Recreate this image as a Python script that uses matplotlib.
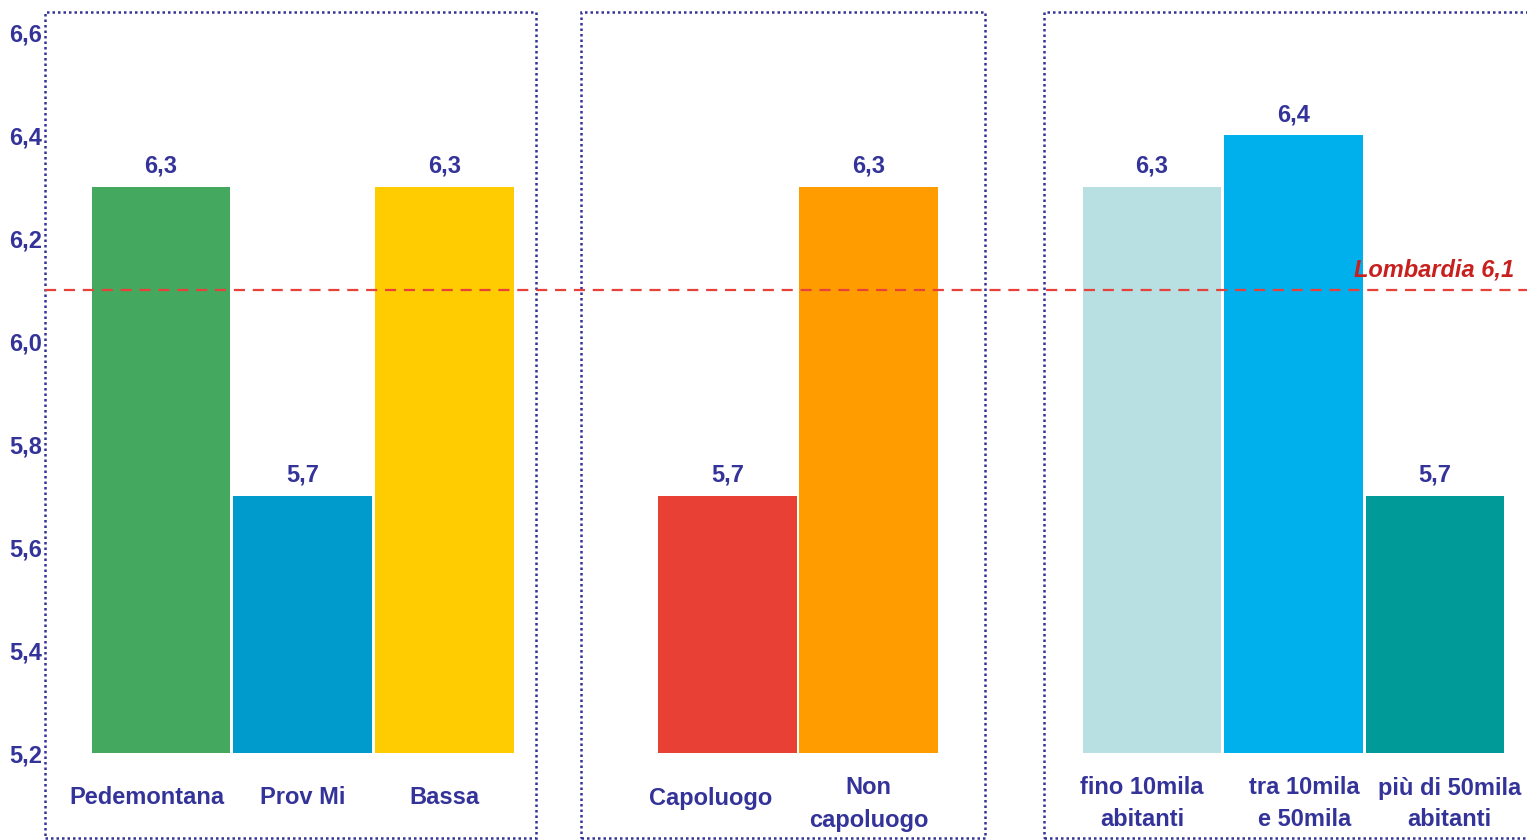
import matplotlib.pyplot as plt
from matplotlib.patches import Rectangle
from matplotlib.transforms import blended_transform_factory

plt.rcParams['font.family'] = ['Liberation Sans', 'DejaVu Sans']

# values by area / type / size of municipality
categories = ['Pedemontana', 'Prov Mi', 'Bassa',
              'Capoluogo', 'Non\ncapoluogo',
              'fino 10mila\nabitanti', 'tra 10mila\ne 50mila', 'più di 50mila\nabitanti']
values = [6.3, 5.7, 6.3, 5.7, 6.3, 6.3, 6.4, 5.7]
colors = ['#45a85f', '#009bcd', '#fecc00',
          '#e84034', '#ff9c00',
          '#b8e0e3', '#00b0ec', '#009a98']
regional_avg = 6.1
regional_name = 'Lombardia'
yticks = [5.2, 5.4, 5.6, 5.8, 6.0, 6.2, 6.4, 6.6]

# bar slots, with an empty slot between groups
positions = [0, 1, 2, 4, 5, 7, 8, 9]
# small horizontal nudges for the category labels (bar units)
label_dx = [-0.1, 0, 0, -0.12, 0, -0.07, 0.08, 0.1]
# group frames: (left, right) in bar units
frames = [(-0.82, 2.65), (2.97, 5.82), (6.24, 9.9)]

navy = '#333399'
W, H = 1527, 840
fs = 17

fig = plt.figure(figsize=(W / 100, H / 100), dpi=100)
ax = fig.add_axes([45 / W, 1 - 753 / H, 1 - 45 / W, (753 - 32.5) / H])

ax.bar(positions, [v - 5.2 for v in values], bottom=5.2, width=0.98,
       color=colors, linewidth=0, zorder=2)

for x, v in zip(positions, values):
    ax.annotate(f'{v:.1f}'.replace('.', ','), (x, v), xytext=(0, 15),
                textcoords='offset points', ha='center', va='center',
                fontsize=fs, fontweight='bold', color=navy)

# regional average
ax.axhline(regional_avg, color='#e8413c', lw=1.6, dashes=(5, 3.5), zorder=3)
ax.annotate(f'{regional_name} {regional_avg:.1f}'.replace('.', ','),
            (9.56, regional_avg), xytext=(0, 6), textcoords='offset points',
            ha='right', va='bottom', fontsize=fs, fontweight='bold',
            style='italic', color='#c8201e')

ax.set_xlim(-0.82, 9.65)
ax.set_ylim(5.2, 6.6)
ax.set_yticks(yticks)
ax.set_yticklabels([f'{t:.1f}'.replace('.', ',') for t in yticks])
ax.tick_params(axis='y', length=0, pad=2, labelsize=fs, labelcolor=navy)
for lbl in ax.get_yticklabels():
    lbl.set_fontweight('bold')
ax.set_xticks([])
for s in ax.spines.values():
    s.set_visible(False)

# category labels below the bars
trans = blended_transform_factory(ax.transData, fig.transFigure)
for x, dx, c in zip(positions, label_dx, categories):
    y_px = 804 if '\n' in c else 798
    ax.text(x + dx, 1 - y_px / H, c, transform=trans, ha='center', va='center',
            fontsize=fs, fontweight='bold', color=navy, linespacing=1.5)

# dotted frames around each group
for x0, x1 in frames:
    ax.add_patch(Rectangle((x0, 1 - 838 / H), x1 - x0, (838 - 12) / H,
                           transform=trans, fill=False, ec=navy, lw=1.8,
                           ls=(0, (1, 1.2)), clip_on=False, zorder=1))

fig.savefig('out.png', dpi=100)
